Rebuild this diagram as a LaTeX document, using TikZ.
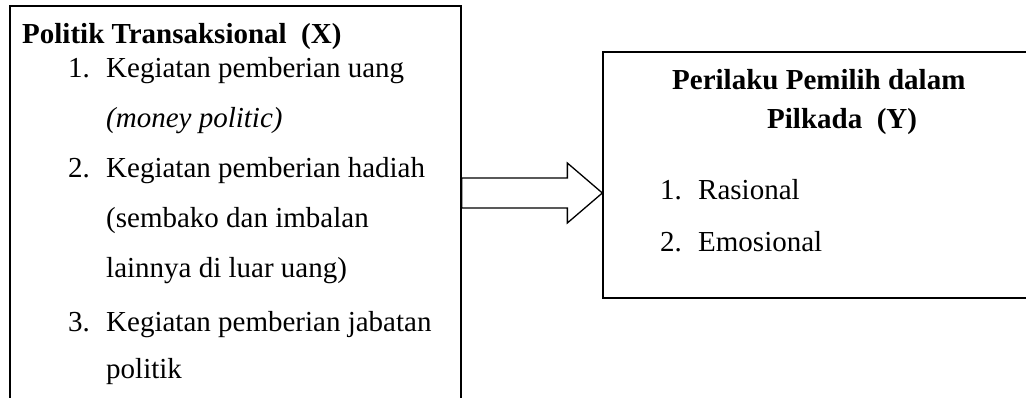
\documentclass[tikz,border=0pt]{standalone}
\usepackage{fontspec}
\setmainfont{Liberation Serif}
\usetikzlibrary{calc}

\tikzset{
  box/.style={draw, line width=1.3pt, inner sep=0pt},
  txt/.style={anchor=base west, inner sep=0pt, font=\fontsize{29}{35}\selectfont},
  fatarrow/.style={draw, line width=1.3pt, fill=white, line join=miter},
}
\newcommand{\itemno}[1]{\makebox[38pt][l]{#1}}

\begin{document}
\begin{tikzpicture}[x=1pt, y=-1pt]
        \clip (0,0) rectangle (1026,398);
        \node[box, minimum width=451, minimum height=414] (varx) at (235.5,213) {};
        \node[box, minimum width=440, minimum height=246] (vary) at (823,175) {};
        
        % left box
        \node[txt, font=\fontsize{29}{35}\selectfont\bfseries] (xtitle) at (22,44) {Politik Transaksional\ \ (X)};
        \node[txt] (x1) at (68,78) {\itemno{1.}Kegiatan pemberian uang};
        \node[txt] (x1b) at (106,128) {\textit{(money politic)}};
        \node[txt] (x2) at (68,178) {\itemno{2.}Kegiatan pemberian hadiah};
        \node[txt] (x2b) at (106,228) {(sembako dan imbalan};
        \node[txt] (x2c) at (106,278) {lainnya di luar uang)};
        \node[txt] (x3) at (68,331) {\itemno{3.}Kegiatan pemberian jabatan};
        \node[txt] (x3b) at (106,378) {politik};
        
        % right box
        \node[txt, font=\fontsize{29}{35}\selectfont\bfseries] (ytitle) at (672,90) {Perilaku Pemilih dalam};
        \node[txt, font=\fontsize{29}{35}\selectfont\bfseries] (ytitleb) at (767,129) {Pilkada\ \ (Y)};
        \node[txt] (y1) at (660,200) {\itemno{1.}Rasional};
        \node[txt] (y2) at (660,252) {\itemno{2.}Emosional};
        
        % arrow
        \coordinate (tail) at (varx.east |- 0,193);
        \coordinate (tip) at (vary.west |- tail);
        \draw[fatarrow] ($(tail)+(0,-15)$) -- ($(tip)+(-35,-15)$) -- ($(tip)+(-35,-30)$) -- (tip)
            -- ($(tip)+(-35,30)$) -- ($(tip)+(-35,15)$) -- ($(tail)+(0,15)$) -- cycle;
    \end{tikzpicture}
\end{document}
